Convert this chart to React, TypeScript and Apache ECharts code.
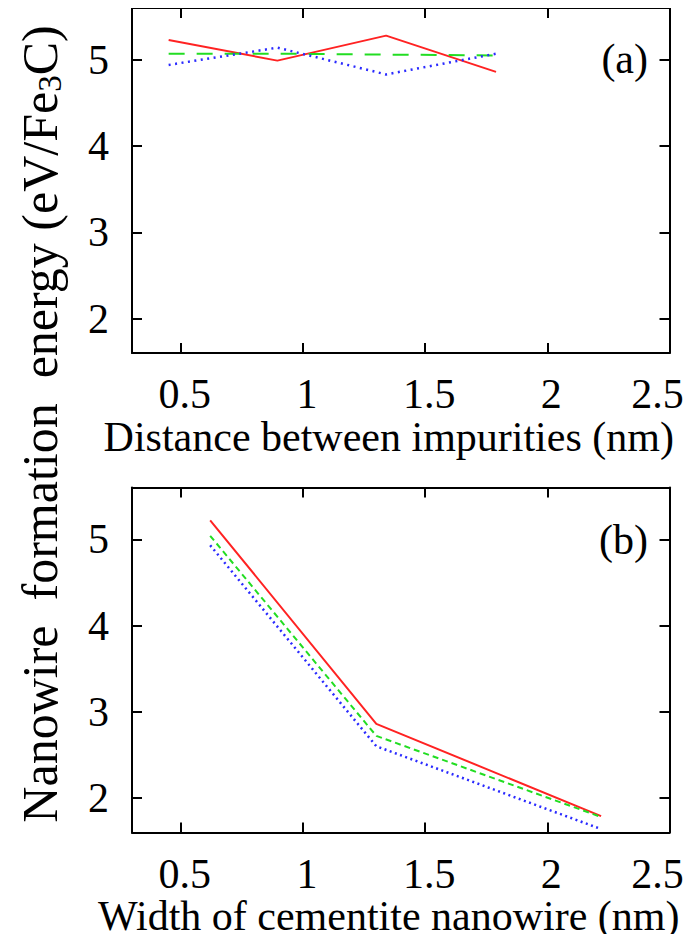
import React, { useEffect, useRef } from "react";
import * as echarts from "echarts";

const xLabelValues = [0.5, 1, 1.5, 2, 2.5];
const xTickValues = [0.5, 1, 1.5, 2];
const yTickValues = [2, 3, 4, 5];

const distanceX = [0.45, 0.895, 1.34, 1.79];
const distRed = [5.23, 4.99, 5.28, 4.86];
const distGreen = [5.07, 5.07, 5.06, 5.05];
const distBlue = [4.94, 5.14, 4.83, 5.07];

const widthX = [0.62, 1.3, 2.22];
const widthRed = [5.22, 2.86, 1.79];
const widthGreen = [5.04, 2.72, 1.78];
const widthBlue = [4.93, 2.6, 1.64];

const FONT = "'Liberation Serif', 'Times New Roman', serif";
const RED = "#ff2222";
const GREEN = "#22dd22";
const BLUE = "#2a2aff";

const pairs = (xs: number[], ys: number[]) => xs.map((x, i) => [x, ys[i]]);

const labelFont = { fontFamily: FONT, fontSize: 42, color: "#000" };

function xAxes(grid: number, name: string) {
  const line = { onZero: false, lineStyle: { color: "#000", width: 2 } };
  const tick = { inside: true, length: 10, customValues: xTickValues, lineStyle: { color: "#000", width: 2 } };
  return [
    {
      gridIndex: grid, type: "value", min: 0.3, max: 2.5, position: "bottom",
      axisLine: line, axisTick: tick, splitLine: { show: false },
      axisLabel: {
        customValues: xLabelValues, ...labelFont, margin: 20,
        formatter: (v: number) => (v === 2.5 ? `{last|${v}}` : `{n|${v}}`),
        rich: {
          n: { ...labelFont, padding: [0, 0, 0, 8] },
          last: { ...labelFont, padding: [0, 24, 0, 0] },
        },
      },
      name, nameLocation: "middle", nameGap: 62,
      nameTextStyle: { ...labelFont, padding: [0, 24, 0, 0] },
    },
    {
      gridIndex: grid, type: "value", min: 0.3, max: 2.5, position: "top",
      axisLine: line, axisTick: tick, splitLine: { show: false }, axisLabel: { show: false },
    },
  ];
}

function yAxes(grid: number) {
  const line = { onZero: false, lineStyle: { color: "#000", width: 2 } };
  const tick = { inside: true, length: 10, customValues: yTickValues, lineStyle: { color: "#000", width: 2 } };
  return [
    {
      gridIndex: grid, type: "value", min: 1.6, max: 5.6, position: "left",
      axisLine: line, axisTick: tick, splitLine: { show: false },
      axisLabel: { customValues: yTickValues, ...labelFont, margin: 23 },
    },
    {
      gridIndex: grid, type: "value", min: 1.6, max: 5.6, position: "right",
      axisLine: line, axisTick: tick, splitLine: { show: false }, axisLabel: { show: false },
    },
  ];
}

function series(xi: number, yi: number, xs: number[], r: number[], g: number[], b: number[], dash: number[], dot: number[]) {
  const base = { type: "line", xAxisIndex: xi, yAxisIndex: yi, symbol: "none", silent: true };
  return [
    { ...base, data: pairs(xs, r), lineStyle: { color: RED, width: 2 } },
    { ...base, data: pairs(xs, g), lineStyle: { color: GREEN, width: 2, type: dash } },
    { ...base, data: pairs(xs, b), lineStyle: { color: BLUE, width: 2.5, type: dot } },
  ];
}

export default function App() {
  const ref = useRef<HTMLDivElement>(null);
  useEffect(() => {
    if (!ref.current) return;
    const chart = echarts.init(ref.current, null, { renderer: "svg" });
    chart.setOption({
      animation: false,
      backgroundColor: "#fff",
      grid: [
        { left: 132, top: 8, width: 537.5, height: 345 },
        { left: 132, top: 487.5, width: 537.5, height: 345 },
      ],
      xAxis: [...xAxes(0, "Distance between impurities (nm)"), ...xAxes(1, "Width of cementite nanowire (nm)")],
      yAxis: [...yAxes(0), ...yAxes(1)],
      series: [
        ...series(0, 0, distanceX, distRed, distGreen, distBlue, [16, 12], [2, 4.5]),
        ...series(2, 2, widthX, widthRed, widthGreen, widthBlue, [6, 4], [2, 3.5]),
      ],
      graphic: [
        {
          type: "text", x: 648, y: 59,
          style: { text: "(a)", align: "right", verticalAlign: "middle", font: `42px ${FONT}`, fill: "#000" },
        },
        {
          type: "text", x: 648, y: 540,
          style: { text: "(b)", align: "right", verticalAlign: "middle", font: `42px ${FONT}`, fill: "#000" },
        },
        {
          type: "text", x: 40, y: 424, rotation: Math.PI / 2,
          style: {
            text: "Nanowire  formation  energy (eV/Fe{sub|3}C)",
            align: "center", verticalAlign: "middle", font: `50px ${FONT}`, fill: "#000",
            rich: { sub: { fontSize: 33, fontFamily: FONT, fill: "#000", verticalAlign: "bottom", padding: [19, 0, 0, 0] } },
          },
        },
      ],
    });
    return () => chart.dispose();
  }, []);
  return <div ref={ref} style={{ width: 699, height: 942, margin: -8 }} />;
}
